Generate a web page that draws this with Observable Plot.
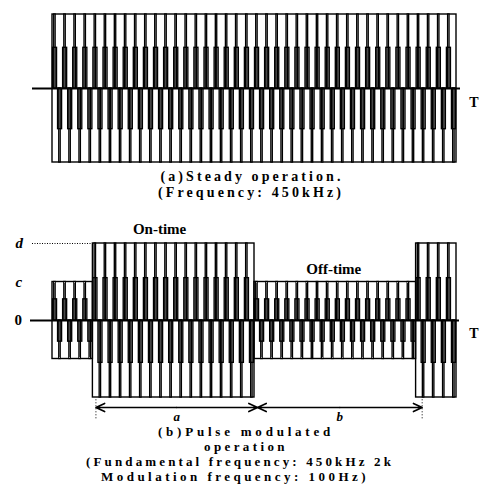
<!DOCTYPE html>
<html>
<head>
<meta charset="utf-8">
<script src="https://cdn.jsdelivr.net/npm/d3@7"></script>
<script src="https://cdn.jsdelivr.net/npm/@observablehq/plot@0.6"></script>
<style>
  html, body { margin: 0; padding: 0; background: #fff; }
  #root { position: relative; width: 483px; height: 497px; overflow: hidden; background: #fff; }
  #root svg { position: absolute; left: 0; overflow: visible; }
  .cap { position: absolute; white-space: nowrap; font-family: "Liberation Serif", "DejaVu Serif", serif;
         font-weight: bold; color: #000; transform: translateX(-50%); }
</style>
</head>
<body>
<div id="root"></div>
<script>
// ---- data (time in carrier cycles of 450 kHz) ----
const levelNames = ["0", "c", "d"];
const levelValues = [0, 0.5, 1];
const steadyBursts = [{ level: "d", cycles: 40 }];            // (a) steady operation
const pulsedBursts = [                                           // (b) pulse modulated
  { level: "c", cycles: 4 },
  { level: "d", cycles: 16 },   // on-time
  { level: "c", cycles: 16 },   // off-time
  { level: "d", cycles: 4 }
];
const spanLabels = ["a", "b"];
const spanFrom = [4.3, 20.3];
const spanTo = [20.3, 36.6];
const captionA = ["(a)Steady operation.", "(Frequency: 450kHz)"];
const captionB = ["(b)Pulse modulated", "operation", "(Fundamental frequency: 450kHz 2k", "Modulation frequency: 100Hz)"];

const level = (name) => levelValues[levelNames.indexOf(name)];

function build(bursts) {
  const segs = [], pulses = [];
  let t = 0;
  for (const b of bursts) {
    const amp = level(b.level);
    segs.push({ start: t, end: t + b.cycles, amp });
    for (let k = 0; k < b.cycles; k++) pulses.push({ t: t + k, amp });
    t += b.cycles;
  }
  return { segs, pulses };
}

function waveMarks(data) {
  const s = { stroke: "black", fill: "none", strokeWidth: 1.35 };
  return [
    Plot.rect(data.segs, { x1: "start", x2: "end", y1: d => -d.amp, y2: "amp", ...s, strokeWidth: 1.4 }),
    Plot.rect(data.pulses, { x1: d => d.t + 0.05, x2: d => d.t + 0.45, y1: 0, y2: d => d.amp * 0.55, ...s }),
    Plot.rect(data.pulses, { x1: d => d.t + 0.17, x2: d => d.t + 0.31, y1: 0, y2: "amp", ...s }),
    Plot.rect(data.pulses, { x1: d => d.t + 0.55, x2: d => d.t + 0.95, y1: 0, y2: d => -d.amp * 0.55, ...s }),
    Plot.rect(data.pulses, { x1: d => d.t + 0.67, x2: d => d.t + 0.81, y1: 0, y2: d => -d.amp, ...s }),
  ];
}

const A = build(steadyBursts);
const B = build(pulsedBursts);
const total = 40;
const font = { fontFamily: "Liberation Serif, DejaVu Serif, serif", fontSize: "14px", overflow: "visible", background: "transparent" };

const plotA = Plot.plot({
  width: 483, height: 170,
  marginTop: 14, marginBottom: 8, marginLeft: 52, marginRight: 27,
  x: { domain: [0, total], axis: null },
  y: { domain: [-1, 1], axis: null },
  style: font,
  marks: [
    ...waveMarks(A),
    Plot.ruleY([0], { stroke: "black", strokeWidth: 2, insetLeft: -20, insetRight: -4 }),
    Plot.text(["T"], { frameAnchor: "right", dx: 22, dy: 14, fontWeight: "bold", fontSize: 14 })
  ]
});
plotA.style.top = "0px";

const levelRows = levelNames.map((n, i) => ({ name: n, v: levelValues[i] }));
const spans = spanLabels.map((l, i) => ({ label: l, from: spanFrom[i], to: spanTo[i], mid: (spanFrom[i] + spanTo[i]) / 2 }));
const dLev = level("d");
const arrowStyle = { y1: -dLev, y2: -dLev, dy: 10, stroke: "black", strokeWidth: 1.6, headLength: 9, headAngle: 50 };

const plotB = Plot.plot({
  width: 483, height: 199,
  marginTop: 15, marginBottom: 30, marginLeft: 52, marginRight: 27,
  x: { domain: [0, total], axis: null },
  y: { domain: [-1, 1], axis: null },
  style: font,
  marks: [
    ...waveMarks(B),
    Plot.ruleY([0], { stroke: "black", strokeWidth: 2, insetLeft: -22, insetRight: -3 }),
    Plot.ruleY([dLev], { x: spanFrom[0] - 0.3, insetLeft: -20, stroke: "black", strokeWidth: 1, strokeDasharray: "1,1.5" }),
    Plot.text(levelRows.filter(d => d.name === "0"), { y: "v", text: "name", frameAnchor: "left", dx: -38, fontWeight: "bold", fontSize: 15 }),
    Plot.text(levelRows.filter(d => d.name !== "0"), { y: "v", text: "name", frameAnchor: "left", dx: -37, fontStyle: "italic", fontWeight: "bold", fontSize: 15 }),
    Plot.text(["T"], { frameAnchor: "right", dx: 22, dy: 13, fontWeight: "bold", fontSize: 14 }),
    Plot.text(["On-time"], { x: (spanFrom[0] + spanTo[0]) / 2 - 1.7, y: dLev, dy: -14, fontWeight: "bold", fontSize: 15, letterSpacing: "0.4px" }),
    Plot.text(["Off-time"], { x: (spanFrom[1] + spanTo[1]) / 2 - 0.6, y: level("c"), dy: -13, fontWeight: "bold", fontSize: 15, letterSpacing: "3.2px" }),
    Plot.arrow(spans, { x1: "mid", x2: "from", ...arrowStyle }),
    Plot.arrow(spans, { x1: "mid", x2: "to", ...arrowStyle }),
    Plot.ruleX([spanFrom[0], spanTo[1]], { y1: -dLev * 1.03, y2: -dLev * 1.28, stroke: "black", strokeWidth: 1, strokeDasharray: "1,2" }),
    Plot.text(spans, { x: "mid", y: -dLev, dy: 19, text: "label", fontStyle: "italic", fontWeight: "bold", fontSize: 13 })
  ]
});
plotB.style.top = "228px";

const root = document.getElementById("root");
root.appendChild(plotA);
root.appendChild(plotB);

// caption lines: centre x, centre y, font size, target width (fitted with letter-spacing)
function cap(text, cx, cy, size, targetWidth) {
  const d = document.createElement("div");
  d.className = "cap";
  d.textContent = text;
  d.style.left = cx + "px";
  d.style.top = (cy - size * 0.5) + "px";
  d.style.fontSize = size + "px";
  d.style.lineHeight = size + "px";
  root.appendChild(d);
  const w = d.getBoundingClientRect().width;
  d.style.letterSpacing = Math.max(0, (targetWidth - w) / text.length) + "px";
}
cap(captionA[0], 252, 177, 14, 183);
cap(captionA[1], 251, 193, 14, 186);
cap(captionB[0], 246, 431, 13, 176);
cap(captionB[1], 246, 446, 13, 84);
cap(captionB[2], 240, 461, 13, 308);
cap(captionB[3], 235, 476, 13, 268);
</script>
</body>
</html>
